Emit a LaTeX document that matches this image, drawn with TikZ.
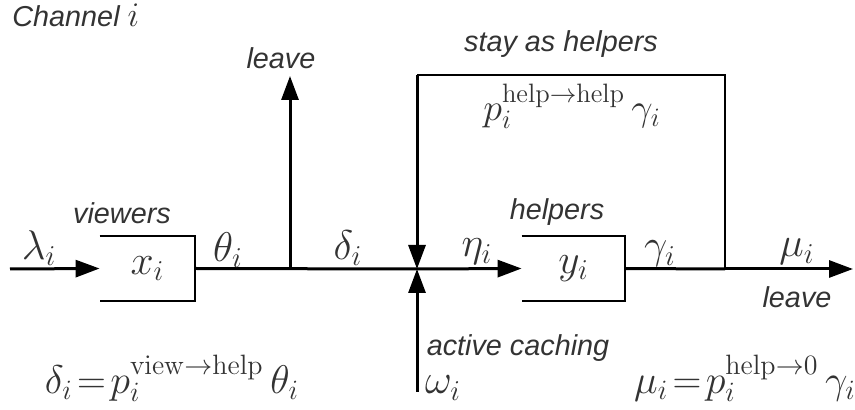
\RequirePackage{fix-cm}
\documentclass[tikz,border=0pt]{standalone}
\usepackage[no-math]{fontspec}
\setmainfont{Liberation Sans}
\usetikzlibrary{positioning,arrows.meta}
\definecolor{tinta}{HTML}{333333}

\begin{document}
\begin{tikzpicture}[
  x=0.5pt, y=-0.5pt,
  etiq/.style={text=tinta, inner sep=0pt, font=\Large\itshape},
  tasa/.style={text=tinta, inner sep=0pt, font=\huge},
  formula/.style={text=tinta, inner sep=0pt, font=\fontsize{20}{24}\selectfont},
  caja/.style={minimum height=32.5pt, inner sep=0pt, text=tinta, font=\huge},
  borde/.style={line width=1pt},
  flujo/.style={line width=1.5pt},
  flecha/.style={flujo, -{Triangle[length=12pt,width=8.5pt]}}
]
  \useasboundingbox (0,0) rectangle (855,410);
  % colas
  \node[caja, minimum width=47.5pt] (xv) at (147.5,268.5) {$x_i$};
  \node[caja, minimum width=51.5pt] (yh) at (573.5,268.5) {$y_i$};
  \draw[borde] (xv.north west) -- (xv.north east) -- (xv.south east) -- (xv.south west);
  \draw[borde] (yh.north west) -- (yh.north east) -- (yh.south east) -- (yh.south west);
  % puntos de paso
  \coordinate (ent) at (10,269);
  \coordinate (sal) at (290,269);
  \coordinate (arriba) at (290,76);
  \coordinate (jn) at (417,269);
  \coordinate (lazo) at (417,75);
  \coordinate (cache) at (417,392);
  \coordinate (ret) at (725,269);
  \coordinate (fin) at (853,269);
  % flujos
  \draw[flecha] (ent) -- (xv.west);
  \draw[flujo] (xv.east) -- (jn);
  \draw[flecha] (sal) -- (arriba);
  \draw[flecha] (jn) -- (yh.west);
  \draw[flujo] (yh.east) -- (ret);
  \draw[flecha] (ret) -- (fin);
  \draw[borde] (ret) |- (lazo);
  \draw[flecha] (lazo) -- (jn);
  \draw[flecha] (cache) -- (jn);
  % textos
  \node[etiq, anchor=base west] (titulo) at (12,27) {Channel {\LARGE$i$}};
  \node[etiq] (ley1) at (281,58) {leave};
  \node[etiq] (viewers) at (122,213) {viewers};
  \node[etiq] (helpers) at (557,212) {helpers};
  \node[etiq] (stay) at (561,44) {stay as helpers};
  \node[etiq] (ley2) at (797,297) {leave};
  \node[etiq] (activa) at (518,348) {active caching};
  \node[tasa] (lam) at (39,248) {$\lambda_i$};
  \node[tasa] (theta) at (228,250) {$\theta_i$};
  \node[tasa] (delta) at (348,248) {$\delta_i$};
  \node[tasa] (eta) at (477,252) {$\eta_i$};
  \node[tasa] (gamma) at (660,254) {$\gamma_i$};
  \node[tasa] (mu) at (797,252) {$\mu_i$};
  \node[tasa] (omega) at (443,388) {$\omega_i$};
  \node[formula, font=\fontsize{19}{23}\selectfont] (pp) at (572,106) {$p_i^{\mathrm{help}\rightarrow\mathrm{help}}\,\gamma_i$};
  \node[formula] (fdelta) at (172,378) {$\delta_i\!=\!p_i^{\mathrm{view}\rightarrow\mathrm{help}}\,\theta_i$};
  \node[formula] (fmu) at (745,378) {$\mu_i\!=\!p_i^{\mathrm{help}\rightarrow 0}\,\gamma_i$};
\end{tikzpicture}
\end{document}
